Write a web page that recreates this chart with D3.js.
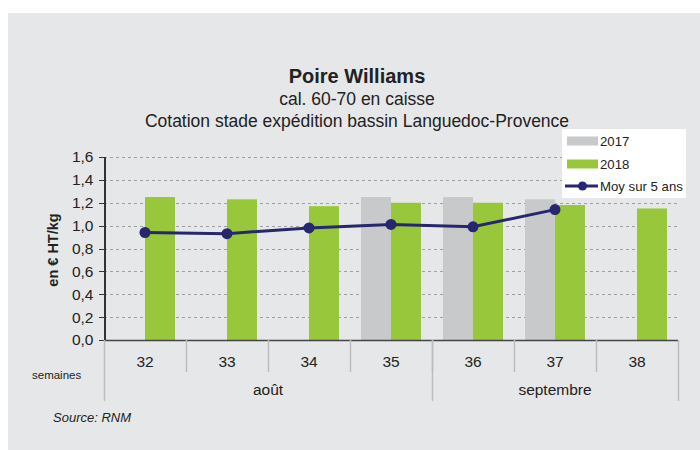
<!DOCTYPE html>
<html>
<head>
<meta charset="utf-8">
<script src="https://cdn.jsdelivr.net/npm/d3@7"></script>
<style>
  body { margin: 0; background: #fff; }
  svg { display: block; font-family: "Liberation Sans", Arial, sans-serif; }
  .axis path, .axis line { shape-rendering: crispEdges; }
</style>
</head>
<body>
<svg id="chart" width="700" height="450"></svg>
<script>
// chart data
const weeks = ['32', '33', '34', '35', '36', '37', '38'];
const prix2017 = [null, null, null, 1.25, 1.25, 1.23, null];
const prix2018 = [1.25, 1.23, 1.17, 1.20, 1.20, 1.18, 1.15];
const moy5ans = [0.94, 0.93, 0.98, 1.01, 0.99, 1.14, null];
const months = ['août', 'septembre'];
const monthFirstWeek = ['32', '36'];
const monthLastWeek = ['35', '38'];
const yTicks = [0, 0.2, 0.4, 0.6, 0.8, 1.0, 1.2, 1.4, 1.6];
const seriesNames = ['2017', '2018', 'Moy sur 5 ans'];

const colors = { y2017: '#c8c9cb', y2018: '#99c73b', moy: '#26276f' };

const svg = d3.select('#chart');

// background panel
svg.append('rect')
    .attr('x', 8).attr('y', 13)
    .attr('width', 692).attr('height', 437)
    .attr('fill', '#e6e7e8');

const margin = { left: 104, right: 678, top: 157, bottom: 340 };

const xScale = d3.scaleBand()
    .domain(weeks)
    .range([margin.left, margin.right])
    .padding(0);

const yScale = d3.scaleLinear()
    .domain([0, 1.6])
    .range([margin.bottom, margin.top]);

const barW = xScale.bandwidth() * 0.366;
const xYear = d3.scaleBand()
    .domain(['2017', '2018'])
    .range([-barW, barW]);
const center = w => xScale(w) + xScale.bandwidth() / 2;

// gridlines
svg.append('g')
    .selectAll('line')
    .data(yTicks.filter(d => d > 0))
    .join('line')
    .attr('x1', margin.left).attr('x2', margin.right)
    .attr('y1', d => Math.round(yScale(d)) + 0.5)
    .attr('y2', d => Math.round(yScale(d)) + 0.5)
    .attr('stroke', '#a0a0a0')
    .attr('stroke-dasharray', '3,3');

// bars
const rows = weeks.map((w, i) => ({ week: w, v2017: prix2017[i], v2018: prix2018[i], moy: moy5ans[i] }));

svg.append('g')
    .selectAll('rect')
    .data(rows.filter(d => d.v2017 != null))
    .join('rect')
    .attr('x', d => center(d.week) + xYear('2017'))
    .attr('width', xYear.bandwidth())
    .attr('y', d => yScale(d.v2017))
    .attr('height', d => yScale(0) - yScale(d.v2017))
    .attr('fill', colors.y2017);

svg.append('g')
    .selectAll('rect')
    .data(rows.filter(d => d.v2018 != null))
    .join('rect')
    .attr('x', d => center(d.week) + xYear('2018'))
    .attr('width', xYear.bandwidth())
    .attr('y', d => yScale(d.v2018))
    .attr('height', d => yScale(0) - yScale(d.v2018))
    .attr('fill', colors.y2018);

// 5-year average line
const moyRows = rows.filter(d => d.moy != null);
svg.append('path')
    .datum(moyRows)
    .attr('fill', 'none')
    .attr('stroke', colors.moy)
    .attr('stroke-width', 3)
    .attr('d', d3.line().x(d => center(d.week)).y(d => yScale(d.moy)));

svg.append('g')
    .selectAll('circle')
    .data(moyRows)
    .join('circle')
    .attr('cx', d => center(d.week))
    .attr('cy', d => yScale(d.moy))
    .attr('r', 5.5)
    .attr('fill', colors.moy);

// y axis
const yAxis = d3.axisLeft(yScale)
    .tickValues(yTicks)
    .tickFormat(d => d3.format('.1f')(d).replace('.', ','))
    .tickSize(6)
    .tickPadding(5);

const yAxisG = svg.append('g')
    .attr('class', 'axis')
    .attr('transform', `translate(${margin.left + 0.5},0)`)
    .call(yAxis);
yAxisG.select('.domain').attr('stroke', '#333').attr('stroke-width', 1.5);
yAxisG.selectAll('.tick line').attr('stroke', '#333');
yAxisG.selectAll('text')
    .attr('font-size', 15.5)
    .attr('font-family', 'Liberation Sans, Arial, sans-serif')
    .attr('fill', '#222');

// x axis line
svg.append('line')
    .attr('x1', margin.left).attr('x2', margin.right)
    .attr('y1', margin.bottom + 0.5).attr('y2', margin.bottom + 0.5)
    .attr('stroke', '#444').attr('stroke-width', 1.5);

// week separators
svg.append('g')
    .selectAll('line')
    .data(weeks.slice(1))
    .join('line')
    .attr('x1', d => Math.round(xScale(d)) + 0.5)
    .attr('x2', d => Math.round(xScale(d)) + 0.5)
    .attr('y1', margin.bottom).attr('y2', 372)
    .attr('stroke', '#bcbcbc').attr('stroke-width', 1.5);

// month separators
const monthEdges = [xScale(monthFirstWeek[0]), xScale(monthFirstWeek[1]), margin.right];
svg.append('g')
    .selectAll('line')
    .data(monthEdges)
    .join('line')
    .attr('x1', d => Math.round(d) + 0.5)
    .attr('x2', d => Math.round(d) + 0.5)
    .attr('y1', margin.bottom).attr('y2', 401)
    .attr('stroke', '#bcbcbc').attr('stroke-width', 1.5);

// week labels
svg.append('g')
    .selectAll('text')
    .data(weeks)
    .join('text')
    .attr('x', d => center(d))
    .attr('y', 367)
    .attr('text-anchor', 'middle')
    .attr('font-size', 15.5)
    .attr('fill', '#222')
    .text(d => d);

// month labels
svg.append('g')
    .selectAll('text')
    .data(months)
    .join('text')
    .attr('x', (d, i) => (xScale(monthFirstWeek[i]) + xScale(monthLastWeek[i]) + xScale.bandwidth()) / 2)
    .attr('y', 395)
    .attr('text-anchor', 'middle')
    .attr('font-size', 15.5)
    .attr('fill', '#222')
    .text(d => d);

svg.append('text')
    .attr('x', 32).attr('y', 379)
    .attr('font-size', 11.5)
    .attr('fill', '#222')
    .text('semaines');

// y axis title
svg.append('text')
    .attr('transform', 'translate(58,250) rotate(-90)')
    .attr('text-anchor', 'middle')
    .attr('font-size', 14.5)
    .attr('font-weight', 'bold')
    .attr('fill', '#222')
    .text('en € HT/kg');

// titles
svg.append('text')
    .attr('x', 357).attr('y', 83)
    .attr('text-anchor', 'middle')
    .attr('font-size', 20)
    .attr('font-weight', 'bold')
    .attr('fill', '#222')
    .text('Poire Williams');

svg.append('text')
    .attr('x', 357).attr('y', 105)
    .attr('text-anchor', 'middle')
    .attr('font-size', 17.5)
    .attr('fill', '#222')
    .text('cal. 60-70 en caisse');

svg.append('text')
    .attr('x', 357).attr('y', 127)
    .attr('text-anchor', 'middle')
    .attr('font-size', 17.5)
    .attr('fill', '#222')
    .text('Cotation stade expédition bassin Languedoc-Provence');

// source
svg.append('text')
    .attr('x', 53).attr('y', 422)
    .attr('font-size', 13)
    .attr('font-style', 'italic')
    .attr('fill', '#222')
    .text('Source: RNM');

// legend
const legend = svg.append('g').attr('transform', 'translate(562,129)');
legend.append('rect')
    .attr('width', 124).attr('height', 69)
    .attr('fill', '#fff');

const legendY = [12, 35, 57];
legend.append('rect')
    .attr('x', 5).attr('y', legendY[0] - 4.5)
    .attr('width', 31).attr('height', 9)
    .attr('fill', colors.y2017);
legend.append('rect')
    .attr('x', 5).attr('y', legendY[1] - 4.5)
    .attr('width', 31).attr('height', 9)
    .attr('fill', colors.y2018);
legend.append('line')
    .attr('x1', 3).attr('x2', 36)
    .attr('y1', legendY[2]).attr('y2', legendY[2])
    .attr('stroke', colors.moy).attr('stroke-width', 3);
legend.append('circle')
    .attr('cx', 20.5).attr('cy', legendY[2])
    .attr('r', 4.5)
    .attr('fill', colors.moy);

legend.selectAll('.legend-label')
    .data(seriesNames)
    .join('text')
    .attr('class', 'legend-label')
    .attr('x', 38)
    .attr('y', (d, i) => legendY[i] + 5)
    .attr('font-size', 13.2)
    .attr('fill', '#222')
    .text(d => d);
</script>
</body>
</html>
